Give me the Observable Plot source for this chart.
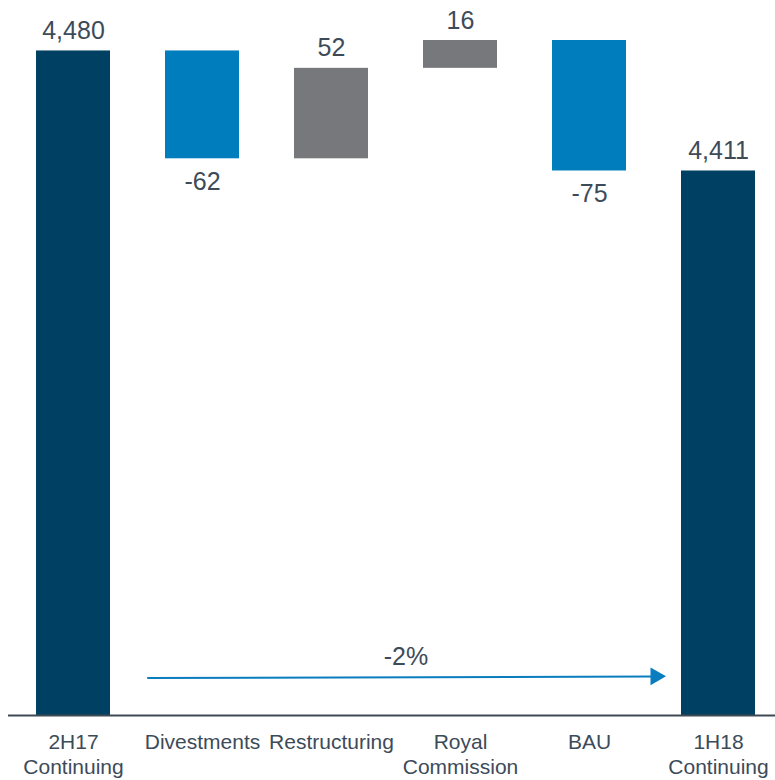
<!DOCTYPE html>
<html><head><meta charset="utf-8">
<script src="https://cdn.jsdelivr.net/npm/d3@7"></script>
<script src="https://cdn.jsdelivr.net/npm/@observablehq/plot@0.6"></script>
<style>body{margin:0;background:#fff}#chart svg{display:block}</style>
</head><body><div id="chart"></div>
<script>
// ---- data ----
const categories = ["2H17 Continuing", "Divestments", "Restructuring", "Royal Commission", "BAU", "1H18 Continuing"];
const tickLabels = ["2H17\nContinuing", "Divestments", "Restructuring", "Royal\nCommission", "BAU", "1H18\nContinuing"];
const kinds = ["total", "decrease", "cost", "cost", "decrease", "total"];
const values = [4480, -62, 52, 16, -75, 4411];
const changeLabel = "-2%";
const arrowFrom = "2H17 Continuing";
const arrowTo = "1H18 Continuing";
const arrowLevels = [4119.4, 4120.5];
const yDomain = [4098, 4509];

// ---- styles ----
const colors = {total: "#004062", decrease: "#007dbd", cost: "#77787b"};
const textColor = "#3d4b59";
const font = "'Liberation Sans', Arial, sans-serif";

// ---- waterfall table ----
let run = 0;
const rows = categories.map((c, i) => {
  const v = values[i];
  let y1, y2;
  if (kinds[i] === "total") { y1 = yDomain[0]; y2 = v; run = v; }
  else { y1 = run; y2 = run + v; run = y2; }
  return {cat: c, kind: kinds[i], value: v, y1, y2,
          top: Math.max(y1, y2), bottom: Math.min(y1, y2),
          below: kinds[i] !== "total" && v < 0};
});
const labelOf = new Map(categories.map((c, i) => [c, tickLabels[i]]));
const fmt = d3.formatLocale({decimal: ".", thousands: ",", grouping: [3], currency: ["", ""], minus: "-"}).format(",");

const chart = Plot.plot({
  width: 775,
  height: 780,
  marginTop: 0,
  marginBottom: 65,
  marginLeft: 8,
  marginRight: 0,
  style: {fontFamily: font, background: "#fff"},
  x: {domain: categories, range: [7, 783], paddingInner: 0.43, paddingOuter: 0.21, axis: null},
  y: {domain: yDomain, axis: null},
  color: {domain: Object.keys(colors), range: Object.values(colors)},
  marks: [
    Plot.barY(rows, {x: "cat", y1: "y1", y2: "y2", fill: "kind"}),
    Plot.ruleY([yDomain[0]], {stroke: "#3f4a55", strokeWidth: 2}),
    Plot.axisX({tickSize: 0, tickPadding: 15, fontSize: 21, lineHeight: 1.22,
      fill: textColor, tickFormat: d => labelOf.get(d)}),
    Plot.text(rows.filter(d => !d.below), {x: "cat", y: "top", text: d => fmt(d.value),
      lineAnchor: "bottom", dy: -12, fontSize: 25, fill: textColor}),
    Plot.text(rows.filter(d => d.below), {x: "cat", y: "bottom", text: d => fmt(d.value),
      lineAnchor: "top", dy: 13.5, fontSize: 25, fill: textColor}),
    Plot.arrow([{a: arrowFrom, b: arrowTo}], {x1: "a", x2: "b", y1: () => arrowLevels[0], y2: () => arrowLevels[1],
      stroke: "#0a7dbf", strokeWidth: 2, headLength: 0, insetStart: 74.5, insetEnd: 66}),
    Plot.dot([arrowTo], {x: d => d, y: () => arrowLevels[1], symbol: "triangle", rotate: 90, r: 6.65,
      fill: "#0a7dbf", stroke: "none", dx: -62.8}),
    Plot.text([changeLabel], {x: () => "Royal Commission", y: () => arrowLevels[1], text: d => d,
      lineAnchor: "bottom", dy: -11, dx: -54.5, fontSize: 25, fill: textColor})
  ]
});
document.getElementById("chart").append(chart);
</script>
</body></html>
